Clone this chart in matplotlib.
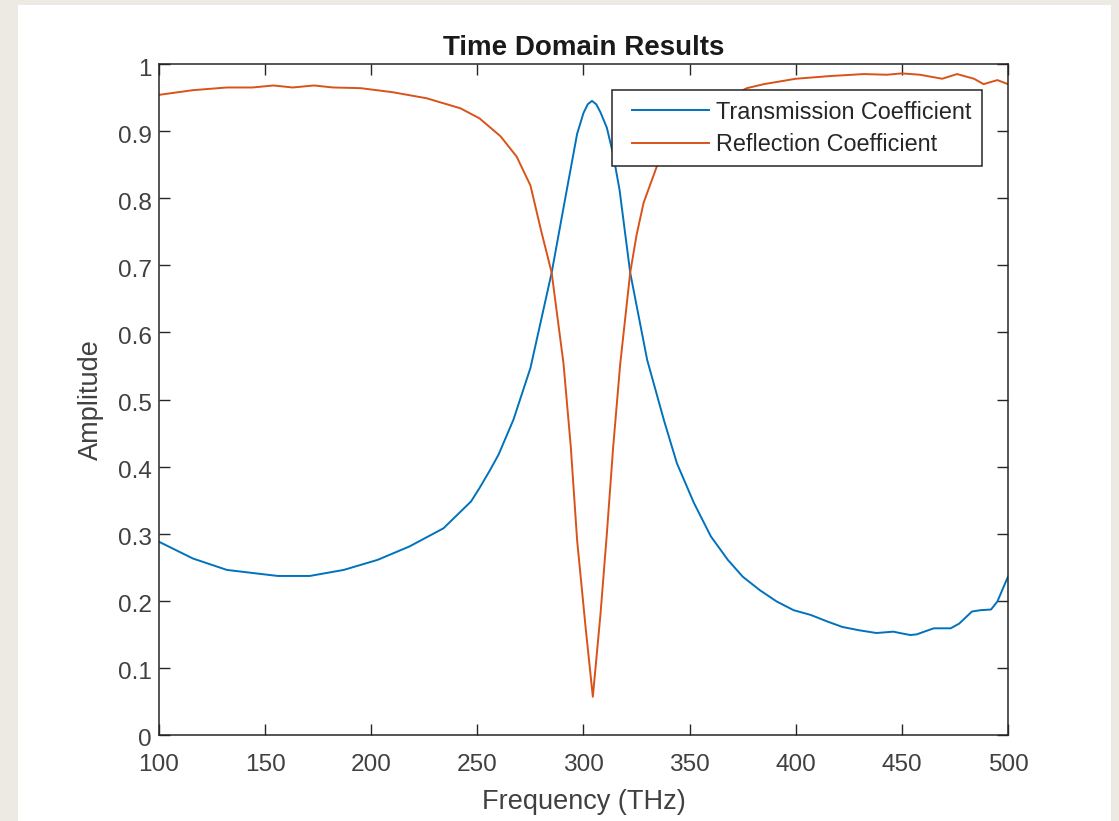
import matplotlib
matplotlib.use("Agg")
import matplotlib.pyplot as plt
from matplotlib.patches import Rectangle
from matplotlib.transforms import ScaledTranslation
from matplotlib.legend_handler import HandlerLine2D
from matplotlib.lines import Line2D

# ---- data ----
freq_T = [100, 116, 132, 148, 156, 171, 187, 203, 218, 234, 247, 251, 256, 260, 267, 275,
          285, 291, 297, 300, 302, 304, 306, 308, 311, 314, 317, 322, 330, 338, 344, 352,
          360, 368, 375, 383, 391, 399, 407, 415, 422, 430, 438, 446, 449, 454, 457, 465,
          473, 477, 483, 487, 492, 495, 500]
trans = [0.288, 0.263, 0.246, 0.240, 0.237, 0.237, 0.246, 0.261, 0.281, 0.308, 0.348,
         0.368, 0.395, 0.418, 0.470, 0.547, 0.689, 0.793, 0.896, 0.927, 0.940, 0.945,
         0.940, 0.928, 0.905, 0.865, 0.812, 0.689, 0.559, 0.468, 0.405, 0.346, 0.296,
         0.261, 0.236, 0.216, 0.199, 0.186, 0.179, 0.169, 0.161, 0.156, 0.152, 0.154,
         0.152, 0.149, 0.150, 0.159, 0.159, 0.166, 0.184, 0.186, 0.187, 0.199, 0.236]

freq_R = [100, 116, 132, 144, 154, 163, 173, 182, 195, 210, 226, 242, 251, 261, 268.5,
          275, 280, 285, 290.6, 294, 297, 301, 304.4, 308, 311, 314, 317.3, 322, 325,
          328.3, 334.5, 340, 350, 360, 370, 377, 385, 400, 416, 432, 443, 450, 458.5, 469,
          476, 484, 488.5, 495, 500]
refl = [0.954, 0.961, 0.965, 0.965, 0.968, 0.965, 0.968, 0.965, 0.964, 0.958, 0.949,
        0.934, 0.919, 0.892, 0.862, 0.819, 0.752, 0.689, 0.553, 0.430, 0.290, 0.160,
        0.057, 0.180, 0.300, 0.430, 0.553, 0.689, 0.745, 0.793, 0.847, 0.875, 0.912,
        0.937, 0.953, 0.964, 0.970, 0.978, 0.982, 0.985, 0.984, 0.986, 0.984, 0.978,
        0.985, 0.978, 0.970, 0.976, 0.970]

x_ticks = [100, 150, 200, 250, 300, 350, 400, 450, 500]
y_ticks = [0, 0.1, 0.2, 0.3, 0.4, 0.5, 0.6, 0.7, 0.8, 0.9, 1]
y_tick_labels = ["0", "0.1", "0.2", "0.3", "0.4", "0.5", "0.6", "0.7", "0.8", "0.9", "1"]
series_names = ["Transmission Coefficient", "Reflection Coefficient"]

# ---- figure ----
W, H = 1119, 821
plt.rcParams['font.family'] = ['Liberation Sans', 'DejaVu Sans']
fig = plt.figure(figsize=(W / 100, H / 100), dpi=100, facecolor='#EDEAE3')
fig.patches.append(Rectangle((18 / W, 0), (1111 - 18) / W, (821 - 5) / H,
                             transform=fig.transFigure, facecolor='white',
                             edgecolor='none', zorder=-10))

ax_l, ax_r, ax_t, ax_b = 159, 1008, 64, 735
ax = fig.add_axes([ax_l / W, 1 - ax_b / H, (ax_r - ax_l) / W, (ax_b - ax_t) / H])
ax.set_zorder(5)

dark = '#262626'
txt = '#404040'
blue = '#0072BD'
orange = '#D95319'
ax.plot(freq_T, trans, color=blue, lw=1.4, label=series_names[0])
ax.plot(freq_R, refl, color=orange, lw=1.4, label=series_names[1])

ax.set_xlim(100, 500)
ax.set_ylim(0, 1)
ax.set_xticks(x_ticks)
ax.set_xticklabels([str(t) for t in x_ticks])
ax.set_yticks(y_ticks)
ax.set_yticklabels(y_tick_labels)
ax.tick_params(direction='in', length=8, width=1, colors=dark, labelsize=17.6,
               top=True, right=True)
ax.tick_params(axis='x', labelcolor=txt, pad=14)
ax.tick_params(axis='y', labelcolor=txt, pad=5)
shift = ScaledTranslation(0, -3 / 100, fig.dpi_scale_trans)
for lab in ax.get_yticklabels():
    lab.set_transform(lab.get_transform() + shift)
for s in ax.spines.values():
    s.set_color(dark)
    s.set_linewidth(1.1)

ax.set_xlabel("Frequency (THz)", fontsize=19.5, color=txt, labelpad=9)
ax.set_ylabel("Amplitude", fontsize=19.5, color=txt, labelpad=10)
ax.set_title("Time Domain Results", fontsize=20, fontweight='bold', color='#1a1a1a', pad=6.5)


class OffsetLineHandler(HandlerLine2D):
    """Legend line that starts a little inside its handle box (MATLAB-like)."""
    def __init__(self, offset, **kw):
        super().__init__(**kw)
        self.offset = offset

    def create_artists(self, legend, orig_handle, xdescent, ydescent, width,
                       height, fontsize, trans):
        arts = super().create_artists(legend, orig_handle, xdescent, ydescent,
                                      width, height, fontsize, trans)
        xd = list(arts[0].get_xdata())
        if len(xd) >= 2:
            xd[0] = xd[0] + self.offset
            arts[0].set_xdata(xd)
        return arts


leg = ax.legend(loc='upper right',
                bbox_to_anchor=((982 - ax_l) / (ax_r - ax_l), (ax_b - 90) / (ax_b - ax_t)),
                borderaxespad=0, fontsize=16.8, frameon=True, fancybox=False,
                edgecolor=dark, handlelength=3.73, handletextpad=0.3,
                labelspacing=0.4, borderpad=0.45,
                handler_map={Line2D: OffsetLineHandler(7.2)})
leg.get_frame().set_linewidth(1.1)
leg.get_frame().set_alpha(1)
for t in leg.get_texts():
    t.set_color(dark)

fig.savefig("out.png", dpi=100, facecolor=fig.get_facecolor())
